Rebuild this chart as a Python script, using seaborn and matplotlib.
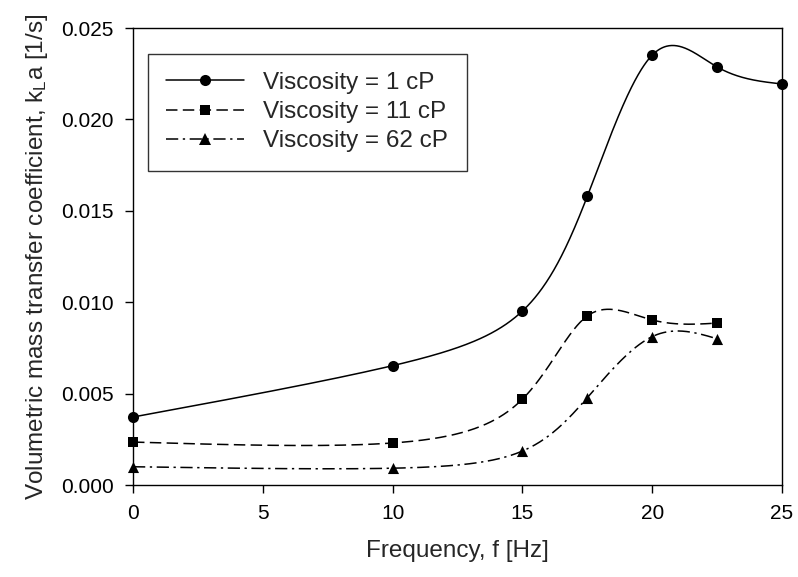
import numpy as np
import pandas as pd
import matplotlib
matplotlib.use("Agg")
import matplotlib.pyplot as plt
from matplotlib.lines import Line2D
import seaborn as sns

# Measured kLa values for three liquid viscosities
freq_1cp = [0, 10, 15, 17.5, 20, 22.5, 25]
kla_1cp = [0.00372, 0.00653, 0.00952, 0.0158, 0.02352, 0.02287, 0.02194]

freq_11cp = [0, 10, 15, 17.5, 20, 22.5]
kla_11cp = [0.00235, 0.0023, 0.00470, 0.00925, 0.00903, 0.00886]

freq_62cp = [0, 10, 15, 17.5, 20, 22.5]
kla_62cp = [0.00100, 0.00092, 0.00186, 0.00478, 0.00812, 0.00800]

labels = ["Viscosity = 1 cP", "Viscosity = 11 cP", "Viscosity = 62 cP"]
x_ticks = [0, 5, 10, 15, 20, 25]
y_ticks = [0.000, 0.005, 0.010, 0.015, 0.020, 0.025]


def natural_spline(t, v, ts):
    """Evaluate a natural cubic spline through (t, v) at ts."""
    t = np.asarray(t, float)
    v = np.asarray(v, float)
    n = len(t)
    h = np.diff(t)
    A = np.zeros((n, n))
    rhs = np.zeros(n)
    A[0, 0] = A[-1, -1] = 1.0
    for i in range(1, n - 1):
        A[i, i - 1] = h[i - 1]
        A[i, i] = 2 * (h[i - 1] + h[i])
        A[i, i + 1] = h[i]
        rhs[i] = 3 * ((v[i + 1] - v[i]) / h[i] - (v[i] - v[i - 1]) / h[i - 1])
    c = np.linalg.solve(A, rhs)
    b = (v[1:] - v[:-1]) / h - h * (2 * c[:-1] + c[1:]) / 3
    d = (c[1:] - c[:-1]) / (3 * h)
    idx = np.clip(np.searchsorted(t, ts) - 1, 0, n - 2)
    dt = ts - t[idx]
    return v[idx] + b[idx] * dt + c[idx] * dt ** 2 + d[idx] * dt ** 3


def smooth_curve(fx, ky, num=600):
    """Parametric spline with one parameter step per data point."""
    t = np.arange(len(fx), dtype=float)
    ts = np.linspace(0, t[-1], num)
    return natural_spline(t, fx, ts), natural_spline(t, ky, ts)


sns.set_style("ticks")
plt.rcParams["font.family"] = ["Liberation Sans", "DejaVu Sans"]
plt.rcParams["mathtext.fontset"] = "custom"
plt.rcParams["mathtext.rm"] = "Liberation Sans"
plt.rcParams["mathtext.it"] = "Liberation Sans"

fig = plt.figure(figsize=(7.98, 5.77), dpi=100)
ax = fig.add_axes([0.1667, 0.1594, 0.8133, 0.792])

series = [
    (freq_1cp, kla_1cp, "o", 64, "-", None),
    (freq_11cp, kla_11cp, "s", 52, "--", (7.5, 3.5)),
    (freq_62cp, kla_62cp, "^", 64, "-.", (8, 3, 1.5, 3)),
]

handles = []
for (fx, ky, mk, ms, ls, dash), lab in zip(series, labels):
    cx, cy = smooth_curve(fx, ky)
    curve = pd.DataFrame({"f": cx, "kla": cy})
    kw = {}
    if dash is not None:
        kw["dashes"] = dash
    ax.plot(curve["f"], curve["kla"], color="black", lw=1.1,
            linestyle=ls, **kw)
    pts = pd.DataFrame({"f": fx, "kla": ky})
    sns.scatterplot(data=pts, x="f", y="kla", marker=mk, s=ms, color="black",
                    edgecolor="black", linewidth=0, ax=ax, zorder=3,
                    clip_on=False)
    h = Line2D([], [], color="black", lw=1.1, linestyle=ls, marker=mk,
               markersize=np.sqrt(ms), markeredgewidth=0)
    if dash is not None:
        h.set_dashes(dash)
    handles.append(h)

ax.set_xlim(0, 25)
ax.set_ylim(0, 0.025)
ax.set_xticks(x_ticks)
ax.set_xticklabels([str(t) for t in x_ticks])
ax.set_yticks(y_ticks)
ax.set_yticklabels([f"{t:.3f}" for t in y_ticks])

for side in ["top", "right", "bottom", "left"]:
    ax.spines[side].set_visible(True)
    ax.spines[side].set_linewidth(1.0)
    ax.spines[side].set_color("black")

ax.tick_params(axis="both", direction="out", length=6, width=1.0,
               labelsize=15, colors="black", top=False, right=False)
ax.tick_params(axis="y", pad=8)
ax.tick_params(axis="x", pad=8)

ax.set_xlabel("Frequency, f [Hz]", fontsize=17.5, labelpad=12)
ax.set_ylabel(r"Volumetric mass transfer coefficient, k$_\mathregular{L}$a [1/s]",
              fontsize=17.5, labelpad=8)

leg = ax.legend(handles, labels, loc="upper left",
                bbox_to_anchor=(0.023, 0.944), borderaxespad=0,
                fontsize=17.5, frameon=True, fancybox=False, handlelength=3.2,
                handletextpad=0.8, labelspacing=0.3, borderpad=0.75)
leg.get_frame().set_edgecolor("black")
leg.get_frame().set_linewidth(1.0)

fig.savefig("out.png", dpi=100)
